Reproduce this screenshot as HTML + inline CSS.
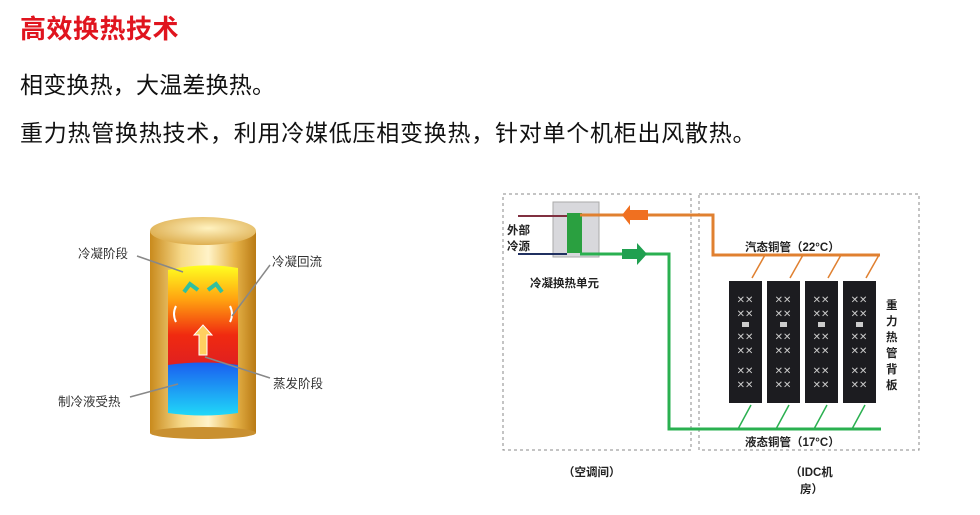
<!DOCTYPE html>
<html><head><meta charset="utf-8"><style>
body{margin:0;width:980px;height:515px;background:#fff;overflow:hidden;position:relative;font-family:"Liberation Sans","Noto Sans CJK SC",sans-serif}
.t{position:absolute;white-space:nowrap}
</style></head><body>
<div class="t" style="left:20px;top:9px;font-size:26px;font-weight:bold;color:#e0141e;letter-spacing:0.5px">高效换热技术</div>
<div class="t" style="left:20px;top:66px;font-size:23px;color:#111;letter-spacing:0.2px">相变换热，大温差换热。</div>
<div class="t" style="left:20px;top:114px;font-size:23px;color:#111;letter-spacing:0.75px">重力热管换热技术，利用冷媒低压相变换热，针对单个机柜出风散热。</div>
<svg width="980" height="515" style="position:absolute;left:0;top:0" font-family="Liberation Sans,Noto Sans CJK SC,sans-serif">
<defs>
<linearGradient id="gold" x1="0" x2="1"><stop offset="0" stop-color="#c98a1c"/><stop offset="0.3" stop-color="#f6d98a"/><stop offset="0.55" stop-color="#fff3c8"/><stop offset="0.8" stop-color="#e7b44a"/><stop offset="1" stop-color="#b97a14"/></linearGradient>
<radialGradient id="top" cx="0.55" cy="0.4" r="0.7"><stop offset="0" stop-color="#fff2c0"/><stop offset="1" stop-color="#d9a540"/></radialGradient>
<linearGradient id="heat" x1="0" y1="0" x2="0" y2="1"><stop offset="0" stop-color="#ffff20"/><stop offset="0.35" stop-color="#ffa010"/><stop offset="0.7" stop-color="#f02a10"/><stop offset="1" stop-color="#e02020"/></linearGradient>
<linearGradient id="cold" x1="0" y1="0" x2="0" y2="1"><stop offset="0" stop-color="#1a5ef0"/><stop offset="1" stop-color="#20d8f8"/></linearGradient>
</defs>
<rect x="150" y="231" width="106" height="202" fill="url(#gold)"/>
<ellipse cx="203" cy="433" rx="53" ry="6" fill="#c99030"/>
<ellipse cx="203" cy="231" rx="53" ry="14" fill="url(#top)"/>
<path d="M168 270 Q203 262 238 268 L238 365 L168 365Z" fill="url(#heat)"/>
<path d="M168 365 Q203 360 238 365 L238 413 Q203 418 168 413Z" fill="url(#cold)"/>
<path d="M198 290 l-8 -6 l-6 8 M208 290 l8 -6 l6 8" stroke="#30c0a0" stroke-width="4" fill="none"/>
<path d="M199 355 v-20 h-5 l9 -10 l9 10 h-5 v20z" fill="#ffd060" stroke="#fff" stroke-width="1"/>
<path d="M176 306 q-4 8 0 16 M230 306 q4 8 0 16" stroke="#fff" stroke-width="2" fill="none"/>
<g stroke="#888" stroke-width="1.5" fill="none">
<line x1="137" y1="256" x2="183" y2="272"/><line x1="270" y1="265" x2="232" y2="316"/><line x1="205" y1="357" x2="270" y2="378"/><line x1="130" y1="397" x2="178" y2="384"/></g>
<g font-size="12.5" fill="#333">
<text x="78" y="258">冷凝阶段</text><text x="272" y="266">冷凝回流</text><text x="273" y="388">蒸发阶段</text><text x="58" y="406">制冷液受热</text></g>
<g stroke="#888" stroke-dasharray="3,3" fill="none" stroke-width="1">
<rect x="503" y="194" width="188" height="256"/><rect x="699" y="194" width="220" height="256"/></g>
<rect x="553" y="202" width="46" height="55" fill="#d8d8dc" stroke="#aaa"/>
<rect x="567" y="213" width="15" height="40" fill="#2aa040"/>
<line x1="518" y1="216" x2="567" y2="216" stroke="#803040" stroke-width="2"/>
<line x1="518" y1="254" x2="567" y2="254" stroke="#203060" stroke-width="2"/>
<polyline points="580,215 713,215 713,255 880,255" stroke="#e08030" stroke-width="3" fill="none"/>
<polyline points="580,254 669,254 669,429 881,429" stroke="#2ab050" stroke-width="3" fill="none"/>
<path d="M648 210 h-18 v-5 l-8 10 l8 10 v-5 h18z" fill="#f07020"/>
<path d="M622 249 h15 v-6 l10 11 l-10 11 v-6 h-15z" fill="#20a050"/>
<g stroke-width="1.5">
<g stroke="#e08030"><line x1="752" y1="278" x2="765" y2="255"/><line x1="790" y1="278" x2="803" y2="255"/><line x1="828" y1="278" x2="841" y2="255"/><line x1="866" y1="278" x2="879" y2="255"/></g>
<g stroke="#2ab050"><line x1="738" y1="429" x2="751" y2="405"/><line x1="776" y1="429" x2="789" y2="405"/><line x1="814" y1="429" x2="827" y2="405"/><line x1="852" y1="429" x2="865" y2="405"/></g></g>
<g fill="#1c1c20">
<rect x="729" y="281" width="33" height="122"/><rect x="767" y="281" width="33" height="122"/><rect x="805" y="281" width="33" height="122"/><rect x="843" y="281" width="33" height="122"/></g>
<g fill="#ccc" font-size="10" text-anchor="middle">
<text x="745" y="303">✕✕</text><text x="783" y="303">✕✕</text><text x="821" y="303">✕✕</text><text x="859" y="303">✕✕</text>
<text x="745" y="317">✕✕</text><text x="783" y="317">✕✕</text><text x="821" y="317">✕✕</text><text x="859" y="317">✕✕</text>
<text x="745" y="340">✕✕</text><text x="783" y="340">✕✕</text><text x="821" y="340">✕✕</text><text x="859" y="340">✕✕</text>
<text x="745" y="354">✕✕</text><text x="783" y="354">✕✕</text><text x="821" y="354">✕✕</text><text x="859" y="354">✕✕</text>
<text x="745" y="374">✕✕</text><text x="783" y="374">✕✕</text><text x="821" y="374">✕✕</text><text x="859" y="374">✕✕</text>
<text x="745" y="388">✕✕</text><text x="783" y="388">✕✕</text><text x="821" y="388">✕✕</text><text x="859" y="388">✕✕</text></g>
<g fill="#ccc"><rect x="742" y="322" width="7" height="5"/><rect x="780" y="322" width="7" height="5"/><rect x="818" y="322" width="7" height="5"/><rect x="856" y="322" width="7" height="5"/></g>
<g font-size="11.5" font-weight="bold" fill="#222">
<text x="507" y="234">外部</text><text x="507" y="250">冷源</text>
<text x="530" y="287">冷凝换热单元</text>
<text x="745" y="251">汽态铜管（22°C）</text>
<text x="745" y="446">液态铜管（17°C）</text>
<text x="563" y="476">（空调间）</text>
<text x="790" y="476">（IDC机</text><text x="800" y="493">房）</text>
<text x="886" y="309">重</text><text x="886" y="325">力</text><text x="886" y="341">热</text><text x="886" y="357">管</text><text x="886" y="373">背</text><text x="886" y="389">板</text>
</g>
</svg>
</body></html>
